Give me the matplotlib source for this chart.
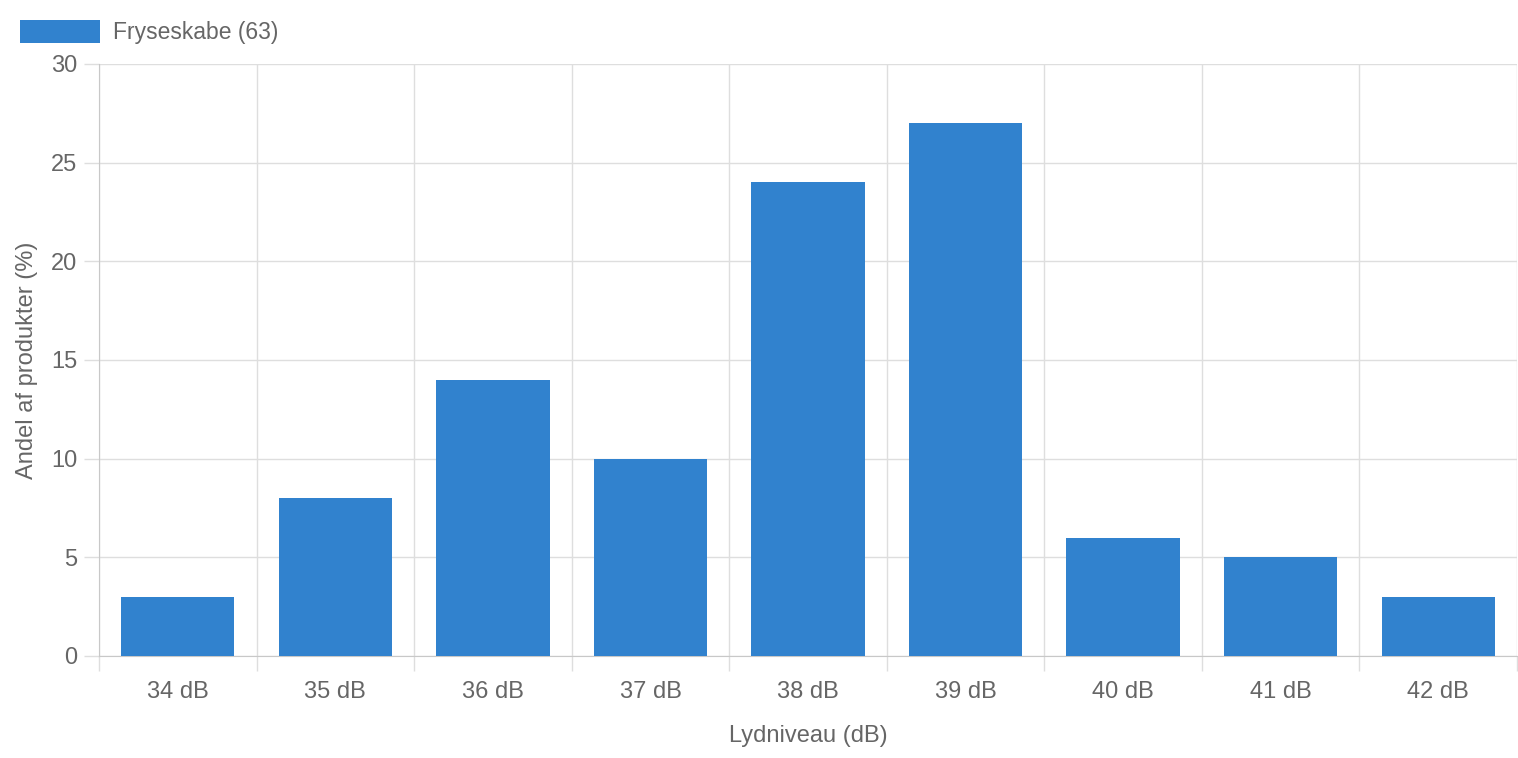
import numpy as np
import matplotlib.pyplot as plt
from matplotlib.patches import Rectangle

categories = ['34 dB', '35 dB', '36 dB', '37 dB', '38 dB', '39 dB', '40 dB', '41 dB', '42 dB']
values = [3, 8, 14, 10, 24, 27, 6, 5, 3]
yticks = [0, 5, 10, 15, 20, 25, 30]
series_name = 'Fryseskabe (63)'

bar_color = '#3182ce'
text_color = '#666666'
grid_color = '#dedede'
axis_color = '#c8c8c8'

plt.rcParams['font.family'] = ['Liberation Sans', 'DejaVu Sans']

W, H = 1518, 758
fs = 17
fig = plt.figure(figsize=(W / 100, H / 100), dpi=100)
ax = fig.add_axes([99 / W, 1 - 656 / H, (1517 - 99) / W, (656 - 64) / H])

x = np.arange(len(categories))
ax.bar(x, values, width=0.72, color=bar_color, zorder=3)

ax.set_xlim(-0.5, len(categories) - 0.5)
ax.set_ylim(0, 30)
ax.set_yticks(yticks)
ax.set_yticklabels([str(t) for t in yticks])

# category grid lines sit between categories
ax.set_xticks(x)
ax.set_xticklabels(categories)
ax.set_xticks(np.arange(len(categories) + 1) - 0.5, minor=True)
ax.grid(True, which='minor', axis='x', color=grid_color, linewidth=1, zorder=0)
ax.grid(True, which='major', axis='y', color=grid_color, linewidth=1, zorder=0)

tick_len = 15 * 0.72
ax.tick_params(axis='x', which='major', length=0, pad=18, labelsize=fs, labelcolor=text_color)
ax.tick_params(axis='x', which='minor', length=tick_len, color=grid_color, width=1)
ax.tick_params(axis='y', which='major', length=tick_len, color=grid_color, width=1, pad=5,
               labelsize=fs, labelcolor=text_color)

for side in ['top', 'right']:
    ax.spines[side].set_visible(False)
ax.spines['left'].set_color(axis_color)
ax.spines['bottom'].set_color(axis_color)

ax.set_xlabel('Lydniveau (dB)', fontsize=fs, color=text_color, labelpad=16)
ax.set_ylabel('Andel af produkter (%)', fontsize=fs, color=text_color, labelpad=9)

# legend drawn like Chart.js: box + text at top left
fig.patches.append(Rectangle((20 / W, 1 - 43 / H), 80 / W, 23 / H,
                             transform=fig.transFigure, facecolor=bar_color,
                             edgecolor='none'))
fig.text(113 / W, 1 - 32 / H, series_name, fontsize=16.5, color=text_color,
         va='center', ha='left')

fig.savefig('out.png', dpi=100)
